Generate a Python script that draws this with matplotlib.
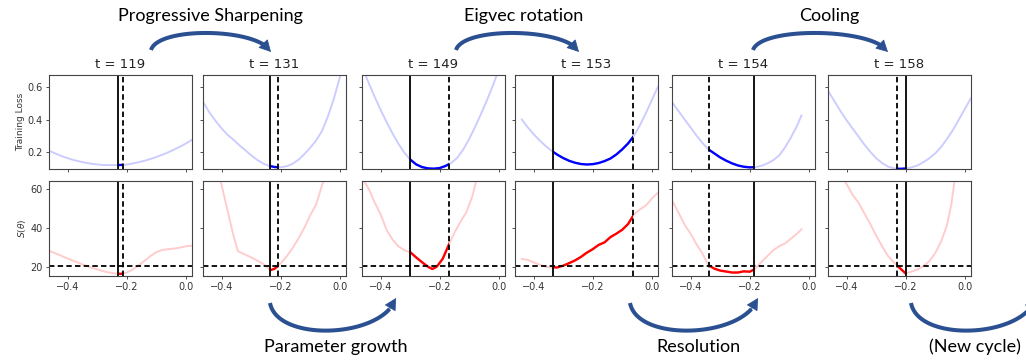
import numpy as np
import matplotlib
matplotlib.use("Agg")
import matplotlib.pyplot as plt
from matplotlib.patches import FancyArrowPatch, Rectangle

# ---- data ----
steps = [119, 131, 149, 153, 154, 158]
theta_solid = [-0.230, -0.235, -0.300, -0.335, -0.184, -0.200]
theta_dashed = [-0.212, -0.210, -0.167, -0.062, -0.337, -0.228]
s_level = 20.5

theta = [-0.46, -0.44, -0.42, -0.40, -0.38, -0.36, -0.34, -0.32, -0.30, -0.28, -0.26, -0.24,
         -0.22, -0.20, -0.18, -0.16, -0.14, -0.12, -0.10, -0.08, -0.06, -0.04, -0.02, 0.00, 0.02]
theta_153 = theta[1:]
theta_154 = [-0.46, -0.44, -0.42, -0.40, -0.38, -0.36, -0.34, -0.32, -0.30, -0.28, -0.26, -0.24,
             -0.22, -0.20, -0.18, -0.16, -0.14, -0.12, -0.10, -0.08, -0.06, -0.04, -0.025]

loss_119 = [0.204, 0.188, 0.173, 0.160, 0.149, 0.140, 0.132, 0.126, 0.121, 0.118, 0.117, 0.117,
            0.118, 0.121, 0.127, 0.135, 0.144, 0.155, 0.167, 0.181, 0.196, 0.213, 0.231, 0.251, 0.273]
loss_131 = [0.50, 0.44, 0.39, 0.345, 0.305, 0.275, 0.24, 0.21, 0.178, 0.150, 0.128, 0.113,
            0.105, 0.104, 0.110, 0.125, 0.150, 0.185, 0.225, 0.27, 0.33, 0.42, 0.53, 0.66, 0.80]
loss_149 = [0.715, 0.625, 0.54, 0.46, 0.385, 0.315, 0.25, 0.195, 0.152, 0.122, 0.105, 0.097,
            0.095, 0.099, 0.112, 0.132, 0.163, 0.215, 0.28, 0.355, 0.435, 0.52, 0.61, 0.71, 0.82]
loss_153 = [0.40, 0.352, 0.309, 0.271, 0.237, 0.207, 0.182, 0.161, 0.144, 0.132, 0.124, 0.121,
            0.123, 0.130, 0.142, 0.158, 0.183, 0.215, 0.252, 0.30, 0.365, 0.44, 0.52, 0.60]
loss_154 = [0.50, 0.45, 0.40, 0.35, 0.30, 0.255, 0.215, 0.19, 0.165, 0.145, 0.128, 0.115,
            0.107, 0.103, 0.105, 0.113, 0.128, 0.148, 0.178, 0.228, 0.29, 0.36, 0.425]
loss_158 = [0.57, 0.51, 0.45, 0.395, 0.345, 0.295, 0.245, 0.20, 0.16, 0.13, 0.108, 0.097,
            0.094, 0.096, 0.103, 0.115, 0.135, 0.16, 0.19, 0.23, 0.28, 0.335, 0.40, 0.465, 0.53]

s_x_131 = [-0.42, -0.40, -0.38, -0.36, -0.345, -0.32, -0.30, -0.28, -0.26, -0.235, -0.22, -0.20,
           -0.18, -0.16, -0.14, -0.12, -0.10, -0.08, -0.06, -0.04]
s_x_149 = [-0.46, -0.44, -0.42, -0.40, -0.38, -0.36, -0.34, -0.32, -0.30, -0.28, -0.26, -0.24,
           -0.225, -0.21, -0.19, -0.17, -0.15, -0.13, -0.11, -0.09, -0.07]
s_x_158 = [-0.42, -0.40, -0.38, -0.36, -0.34, -0.32, -0.30, -0.28, -0.26, -0.24, -0.22, -0.20,
           -0.18, -0.16, -0.14, -0.12, -0.10, -0.08, -0.06, -0.045, -0.035]

s_119 = [28.0, 26.8, 25.5, 24.2, 23.0, 21.8, 20.6, 19.5, 18.6, 17.7, 17.0, 16.5,
         16.3, 17.0, 18.5, 20.6, 23.0, 25.4, 27.5, 28.6, 29.0, 29.3, 29.8, 30.5, 30.8]
s_131 = [75, 62, 49, 36, 28, 26.2, 24.8, 23.2, 21.5, 18.2, 19.0, 21.7,
         25.3, 29.5, 34.5, 40, 46.5, 52, 62, 70]
s_149 = [65, 60, 53, 47, 39, 34, 30.5, 28.5, 27.5, 24.8, 22.3, 20.0,
         18.8, 20.0, 24.0, 31.0, 37.5, 43, 48, 56, 68]
s_153 = [24.0, 23.5, 22.2, 21.0, 20.0, 19.6, 19.6, 20.5, 21.8, 23.2, 25.0, 27.2,
         29.0, 31.2, 32.5, 35.2, 37.0, 39.0, 42.0, 47.0, 49.5, 51.5, 55.0, 58.0]
s_154 = [53.3, 47.5, 41.5, 37.0, 31.5, 26.8, 20.8, 19.0, 18.0, 17.5, 17.0, 17.0,
         17.6, 17.4, 19.0, 22.5, 25.5, 28.5, 30.5, 32.0, 34.5, 37.0, 39.2]
s_158 = [67, 62.5, 57, 53, 47.5, 42, 36, 30.5, 25.5, 22.2, 19.3, 16.5,
         17.5, 18.5, 20.3, 22.8, 27, 33, 41.5, 52.5, 64]

loss_x = [theta, theta, theta, theta_153, theta_154, theta]
loss_y = [loss_119, loss_131, loss_149, loss_153, loss_154, loss_158]
s_x = [theta, s_x_131, s_x_149, theta_153, theta_154, s_x_158]
s_y = [s_119, s_131, s_149, s_153, s_154, s_158]

phases_top = ["Progressive Sharpening", "Eigvec rotation", "Cooling"]
phases_bottom = ["Parameter growth", "Resolution", "(New cycle)"]

# ---- layout (pixels) ----
W, H = 1026, 361
col_left = [49, 203, 362, 515, 672, 828]
col_w = 143
rows = [(75, 169), (181, 276)]

fig = plt.figure(figsize=(W / 100, H / 100), dpi=100)


def px_axes(x0, y0, x1, y1):
    return fig.add_axes([x0 / W, 1 - y1 / H, (x1 - x0) / W, (y1 - y0) / H])


def highlight(ax, x, y, a, b, color):
    ax.plot(x, y, color=color, lw=1.4, alpha=0.2)
    line, = ax.plot(x, y, color=color, lw=1.7)
    lo, hi = ax.get_ylim()
    clip = Rectangle((min(a, b), lo), abs(b - a), hi - lo, transform=ax.transData)
    line.set_clip_path(clip)


for i, t in enumerate(steps):
    ax_l = px_axes(col_left[i], rows[0][0], col_left[i] + col_w, rows[0][1])
    ax_s = px_axes(col_left[i], rows[1][0], col_left[i] + col_w, rows[1][1])
    ax_l.set_ylim(0.093, 0.676)
    ax_s.set_ylim(15.2, 64.1)
    for ax in (ax_l, ax_s):
        ax.set_xlim(-0.463, 0.021)
        ax.set_xticks([-0.4, -0.2, 0.0])
        ax.tick_params(labelsize=7, length=2.5, width=0.6, pad=2, colors="#333333")
        for sp in ax.spines.values():
            sp.set_linewidth(0.8)
            sp.set_color("#444444")
    ax_l.set_yticks([0.2, 0.4, 0.6])
    ax_s.set_yticks([20, 40, 60])
    ax_l.set_xticklabels([])
    if i > 0:
        ax_l.set_yticklabels([])
        ax_s.set_yticklabels([])
    else:
        ax_l.set_ylabel("Training Loss", fontsize=6.5, labelpad=2, color="#333333")
        ax_s.set_ylabel(r"$S(\theta)$", fontsize=6.5, labelpad=2, color="#333333")
    ax_l.set_title(f"t = {t}", fontsize=9.5, pad=5, color="#222222")

    highlight(ax_l, loss_x[i], loss_y[i], theta_solid[i], theta_dashed[i], "blue")
    highlight(ax_s, s_x[i], s_y[i], theta_solid[i], theta_dashed[i], "red")

    for ax in (ax_l, ax_s):
        ax.axvline(theta_solid[i], color="black", lw=1.3)
        ax.axvline(theta_dashed[i], color="black", lw=1.3, ls=(0, (3, 1.8)))
    ax_s.axhline(s_level, color="black", lw=1.3, ls=(0, (3, 1.8)))

# ---- annotations: phase names and curved arrows ----
ov = fig.add_axes([0, 0, 1, 1])
ov.set_xlim(0, W)
ov.set_ylim(H, 0)
ov.axis("off")

arrow_color = "#2B5091"


def bezier(p0, c1, c2, p1, tt):
    tt = np.asarray(tt)[:, None]
    p0, c1, c2, p1 = map(np.asarray, (p0, c1, c2, p1))
    return ((1 - tt) ** 3 * p0 + 3 * (1 - tt) ** 2 * tt * c1
            + 3 * (1 - tt) * tt ** 2 * c2 + tt ** 3 * p1)


def curved_arrow(p0, p1, bulge):
    dx = p1[0] - p0[0]
    c1 = (p0[0] + 0.06 * dx, p0[1] + bulge)
    c2 = (p1[0] - 0.10 * dx, p1[1] + bulge)
    body = bezier(p0, c1, c2, p1, np.linspace(0, 0.9, 60))
    ov.plot(body[:, 0], body[:, 1], color=arrow_color, lw=2.9,
            solid_capstyle="butt", clip_on=False)
    start = body[-1]
    head = FancyArrowPatch(tuple(start), tuple(p1),
                           arrowstyle="-|>,head_length=0.75,head_width=0.4",
                           mutation_scale=10, lw=0.6, color=arrow_color,
                           shrinkA=0, shrinkB=0, clip_on=False)
    ov.add_patch(head)


top_x = [210, 524, 829]
top_arrows = [((151, 50), (271, 52)), ((456, 50), (579, 52)), ((753, 50), (888, 52))]
bot_x = [336, 698, 975]
bot_arrows = [((270, 303), (396, 298)), ((630, 303), (758, 298)), ((911, 303), (1036, 298))]

for name, x, (p0, p1) in zip(phases_top, top_x, top_arrows):
    ov.text(x, 16, name, ha="center", va="center", fontsize=13, family=["Lato", "DejaVu Sans"])
    curved_arrow(p0, p1, -24)
for name, x, (p0, p1) in zip(phases_bottom, bot_x, bot_arrows):
    ov.text(x, 347, name, ha="center", va="center", fontsize=13, family=["Lato", "DejaVu Sans"])
    curved_arrow(p0, p1, 40)

fig.savefig("out.png", dpi=100)
